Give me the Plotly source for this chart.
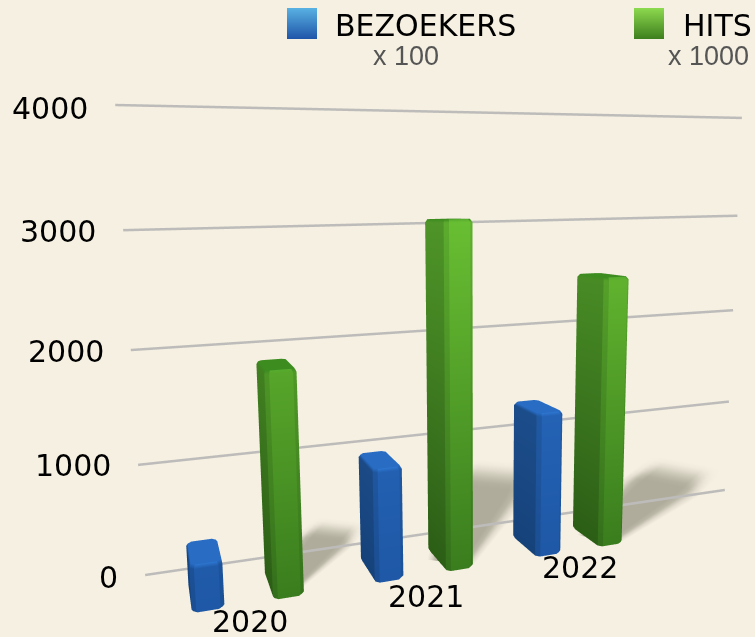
import plotly.graph_objects as go

years = ["2020", "2021", "2022"]
bezoekers = [400, 1000, 1330]
hits = [1900, 3040, 2500]
ticks = [0, 1000, 2000, 3000, 4000]

BG = (245, 240, 225)
BG_HEX = "#f5f0e1"
SZ = 0.5943 / 4000      # world units per value
GROUP = 0.2245
BLUE_X, GREEN_X = 0.052, 0.148
BAR_W, BAR_D = 0.038, 0.074
FRONT_Y = -0.123
YEAR_Y = -0.118
WALL_LEN = 0.9113

# camera (world units)
E = (0.0224, -0.9940, 0.4628)
FWD = (0.2859, 0.9483, -0.138)
UP = (0.0576, 0.1267, 0.9903)
XR, YR, ZR = (-0.05, 1.05), (-0.25, 0.45), (-100 * SZ, 4400 * SZ)
K = 1.0
Wc = [(r[0] + r[1]) / 2 for r in (XR, YR, ZR)]
C = [E[i] + FWD[i] for i in range(3)]
norm = lambda p: dict(x=K * (p[0] - Wc[0]), y=K * (p[1] - Wc[1]), z=K * (p[2] - Wc[2]))


def lerp(c0, c1, t):
    t = max(0, min(1, t))
    return tuple(c0[i] + (c1[i] - c0[i]) * t for i in range(3))


def rgb(c):
    return "rgb(%d,%d,%d)" % tuple(round(v) for v in c)


GREEN = dict(front=((58, 124, 30), (104, 190, 50)), left=((44, 94, 22), (78, 148, 40)),
             top=(60, 140, 32), hi=(112, 205, 60))
BLUE = dict(front=((30, 88, 166), (44, 112, 200)), left=((22, 66, 122), (36, 92, 160)),
            top=(40, 108, 196), hi=(52, 130, 222))


def bar(x0, value, pal):
    h = value * SZ
    x1 = x0 + BAR_W
    y0, y1 = FRONT_Y, FRONT_Y + BAR_D
    c = 0.005
    e = 0.004
    poly = [(x0 + c, y0), (x1 - c, y0), (x1, y0 + c), (x1, y1 - c),
            (x1 - c, y1), (x0 + c, y1), (x0, y1 - c), (x0, y0 + c)]
    kinds = ["front", "mid_r", "front", "front", "front", "left", "left", "mid"]
    cx, cy = (x0 + x1) / 2, (y0 + y1) / 2
    rings = [(0.9, 0.0), (1.0, e), (1.0, h - e), (0.9, h)]
    X, Y, Z, I, J, K_, VC = [], [], [], [], [], [], []

    def col(kind, z, ring):
        t = z / (3000 * SZ)
        fr = lerp(*pal["front"], t)
        lf = lerp(*pal["left"], t)
        base = dict(front=fr, left=lf, mid=lerp(lf, fr, 0.55), mid_r=lerp(fr, lf, 0.35))[kind]
        if ring == 3:
            base = pal["top"] if kind != "front" else lerp(pal["top"], pal["hi"], 0.5)
        return base

    n = len(poly)
    for s in range(n):
        a, b = poly[s], poly[(s + 1) % n]
        kind = kinds[s]
        st = len(X)
        for ri, (sc, z) in enumerate(rings):
            for p in (a, b):
                X.append(cx + (p[0] - cx) * sc if ri in (0, 3) else p[0])
                Y.append(cy + (p[1] - cy) * sc if ri in (0, 3) else p[1])
                Z.append(z)
                VC.append(rgb(col(kind, z, ri)))
        for r in range(3):
            p = st + 2 * r
            I += [p, p]
            J += [p + 1, p + 3]
            K_ += [p + 3, p + 2]
    st = len(X)
    X.append(cx); Y.append(cy); Z.append(h); VC.append(rgb(pal["top"]))
    for p in poly:
        X.append(cx + (p[0] - cx) * 0.9)
        Y.append(cy + (p[1] - cy) * 0.9)
        Z.append(h)
        VC.append(rgb(pal["top"]))
    for s in range(n):
        I.append(st); J.append(st + 1 + s); K_.append(st + 1 + (s + 1) % n)
    return go.Mesh3d(x=X, y=Y, z=[v / SZ for v in Z], i=I, j=J, k=K_, vertexcolor=VC,
                     lighting=dict(ambient=1, diffuse=0, specular=0, roughness=1, fresnel=0),
                     hoverinfo="skip", showscale=False)


def shadow(base, tip, width, strength, idx):
    nu, nv = 18, 12
    X, Y, Z, I, J, K_, VC = [], [], [], [], [], [], []
    dx, dy = tip[0] - base[0], tip[1] - base[1]
    L = (dx * dx + dy * dy) ** 0.5
    nx, ny = -dy / L, dx / L
    dark = (176, 172, 156)
    for u in range(nu + 1):
        t = u / nu
        w = width * (0.45 + 0.55 * min(1, t / 0.6))
        for v in range(nv + 1):
            s = -1 + 2 * v / nv
            X.append(base[0] + dx * t + nx * w * s)
            Y.append(base[1] + dy * t + ny * w * s)
            Z.append(-30 - 6 * idx)
            f = strength * min(1, 3.0 * (1 - t)) * min(1, 2.2 * (1 - abs(s)))
            f = f * f * (3 - 2 * f)
            VC.append(rgb(lerp(BG, dark, f)))
    for u in range(nu):
        for v in range(nv):
            p = u * (nv + 1) + v
            I += [p, p]
            J += [p + 1, p + nv + 2]
            K_ += [p + nv + 2, p + nv + 1]
    return go.Mesh3d(x=X, y=Y, z=Z, i=I, j=J, k=K_, vertexcolor=VC,
                     lighting=dict(ambient=1, diffuse=0, specular=0, roughness=1, fresnel=0),
                     hoverinfo="skip", showscale=False)


fig = go.Figure()

# shadows behind the green bars
shadow_tips = [(0.29, 0.10), (0.64, 0.27), (0.96, 0.15)]
shadow_w = [0.045, 0.07, 0.065]
for i, tip in enumerate(shadow_tips):
    base = (i * GROUP + GREEN_X + BAR_W / 2, FRONT_Y + BAR_D / 2)
    fig.add_trace(shadow(base, tip, shadow_w[i], 1.0, i))

# grid
gx, gy, gz = [], [], []
for t in ticks:
    gx += [0, WALL_LEN, None]
    gy += [0, 0, None]
    gz += [t, t, None]
fig.add_trace(go.Scatter3d(x=gx, y=gy, z=gz, mode="lines", hoverinfo="skip",
                           line=dict(color="#bdbcba", width=5)))

for i in range(len(years)):
    fig.add_trace(bar(i * GROUP + BLUE_X, bezoekers[i], BLUE))
    fig.add_trace(bar(i * GROUP + GREEN_X, hits[i], GREEN))

ann3d = []
tick_yshift = [-2, -1, -1, -1, -4]
for t, ys in zip(ticks, tick_yshift):
    ann3d.append(dict(x=0, y=0, z=t, text=str(t), showarrow=False, xanchor="right", yanchor="middle",
                      xshift=-25, yshift=ys, font=dict(family="DejaVu Sans", size=30, color="#000")))
year_yshift = [-18, -22, -18]
for i, yr in enumerate(years):
    ann3d.append(dict(x=i * GROUP + (BLUE_X + GREEN_X + BAR_W) / 2, y=YEAR_Y, z=0, text=yr, showarrow=False,
                      xanchor="center", yanchor="middle", xshift=1, yshift=year_yshift[i],
                      font=dict(family="DejaVu Sans", size=30, color="#000")))

hidden = dict(visible=False, showgrid=False, zeroline=False, showspikes=False, autorange=False)
scene = dict(
    domain=dict(x=[0, 1], y=[0, 1]),
    bgcolor=BG_HEX,
    xaxis=dict(range=list(XR), **hidden),
    yaxis=dict(range=list(YR), **hidden),
    zaxis=dict(range=[ZR[0] / SZ, ZR[1] / SZ], **hidden),
    aspectmode="manual",
    aspectratio=dict(x=K * (XR[1] - XR[0]), y=K * (YR[1] - YR[0]), z=K * (ZR[1] - ZR[0])),
    camera=dict(eye=norm(E), center=norm(C), up=dict(x=UP[0], y=UP[1], z=UP[2]),
                projection=dict(type="perspective")),
    annotations=ann3d,
    dragmode=False,
)

W, H = 755, 637
shapes, anns = [], []


def swatch(x0, x1, y0, y1, top, bottom):
    n = y1 - y0
    for k in range(n):
        shapes.append(dict(type="rect", xref="paper", yref="paper", layer="above", line=dict(width=0),
                           x0=x0 / W, x1=x1 / W, y0=1 - (y0 + k) / H, y1=1 - (y0 + k + 1) / H,
                           fillcolor=rgb(lerp(top, bottom, k / (n - 1)))))


swatch(287, 317, 8, 39, (88, 176, 226), (32, 86, 170))
swatch(634, 664, 8, 39, (140, 216, 78), (62, 128, 30))


def label(x, y, text, family, size, color):
    anns.append(dict(xref="paper", yref="paper", x=x / W, y=1 - y / H, text=text, showarrow=False,
                     xanchor="left", yanchor="middle", font=dict(family=family, size=size, color=color)))


label(333, 25, "BEZOEKERS", "DejaVu Sans", 30, "#000")
label(681, 25, "HITS", "DejaVu Sans", 30, "#000")
label(371, 56, "x 100", "Liberation Sans", 27, "#555")
label(666, 56, "x 1000", "Liberation Sans", 27, "#555")

fig.update_layout(width=W, height=H, margin=dict(l=0, r=0, t=0, b=0, pad=0), paper_bgcolor=BG_HEX,
                  showlegend=False, scene=scene, shapes=shapes, annotations=anns)
fig.write_html("out.html", config=dict(displayModeBar=False, staticPlot=False),
               post_script="document.body.style.margin='0';document.body.style.background='%s';" % BG_HEX)
